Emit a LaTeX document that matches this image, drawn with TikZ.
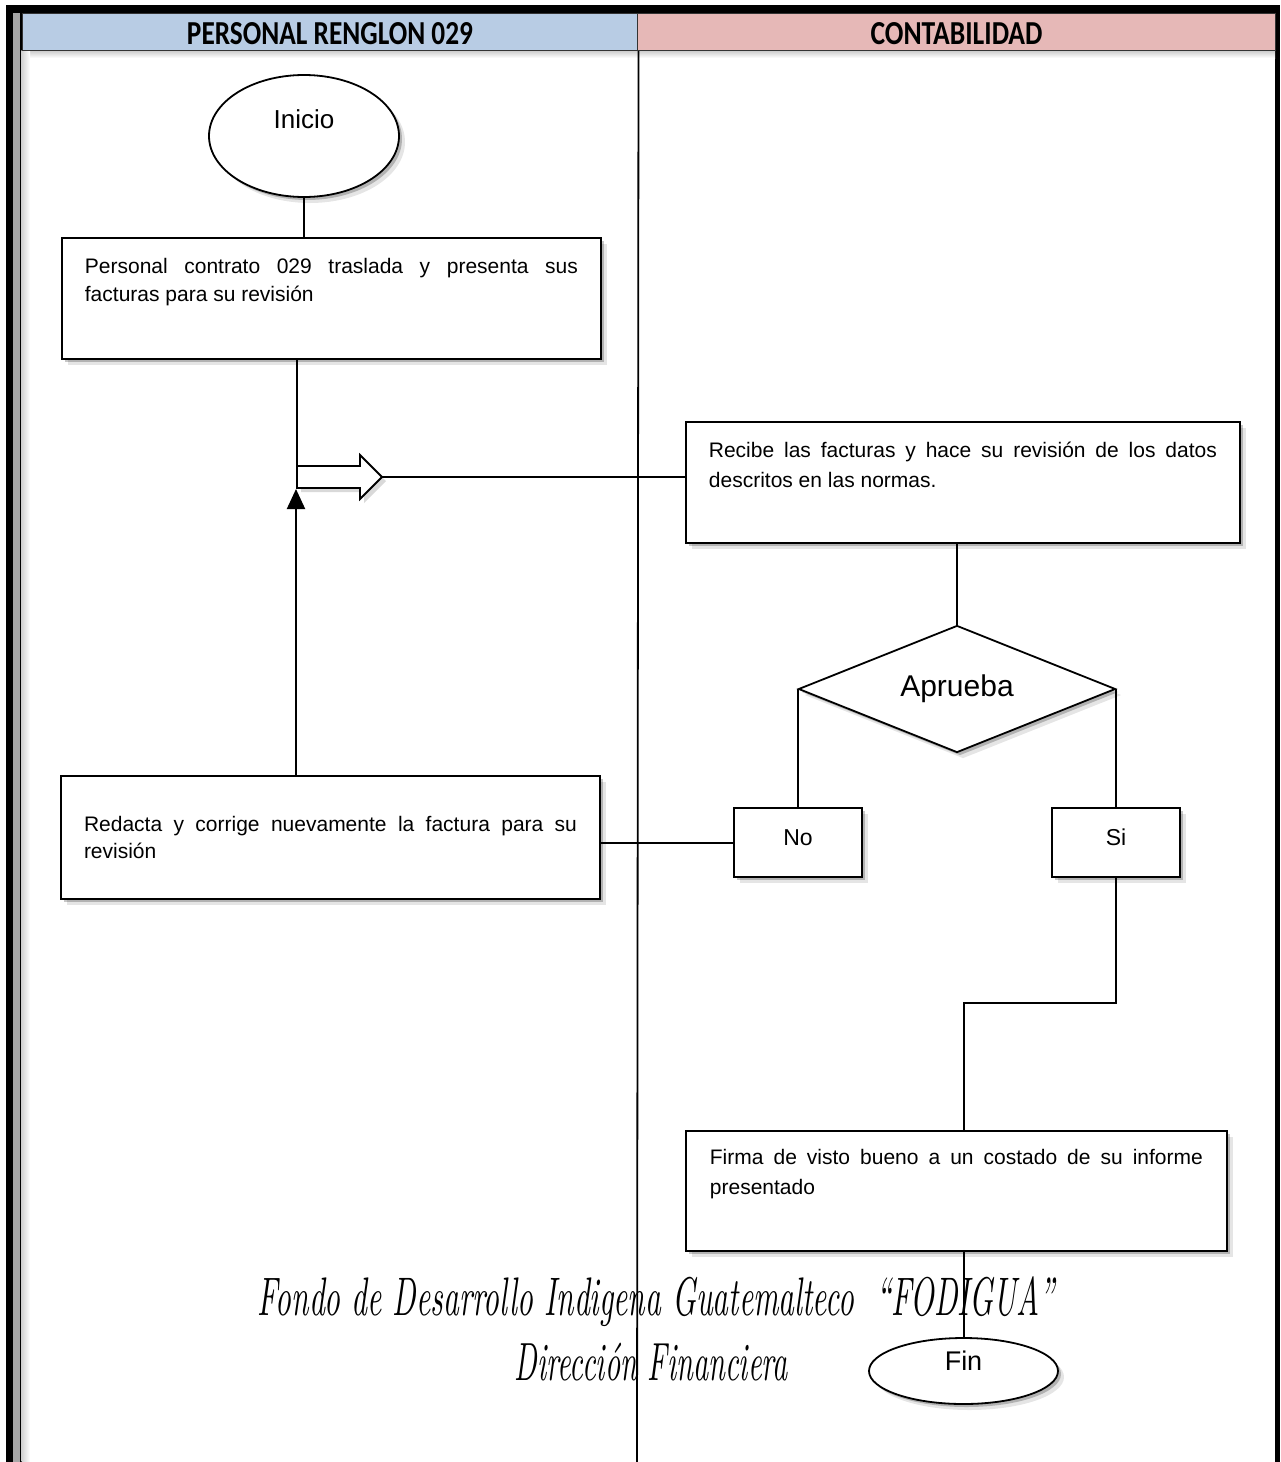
\documentclass[tikz,border=0pt]{standalone}
\usepackage{fontspec}
\newfontfamily\arial{Liberation Sans}
\newfontfamily\hdrfont{Carlito}
\usetikzlibrary{shapes.geometric,shadows,arrows.meta}
\definecolor{hblue}{RGB}{184,204,228}
\definecolor{hpink}{RGB}{230,184,183}
\begin{document}
\begin{tikzpicture}[x=1pt,y=-1pt,
  shad/.style={drop shadow={shadow xshift=3pt,shadow yshift=-3pt,opacity=.22,fill=black},
               drop shadow={shadow xshift=6pt,shadow yshift=-6pt,opacity=.10,fill=black}},
  box/.style={draw,line width=1.8pt,fill=white,rectangle,shad,font=\arial\fontsize{21}{29}\selectfont},
  ell/.style={draw,line width=1.8pt,fill=white,ellipse,inner sep=0pt,shad},
  small/.style={draw,line width=1.8pt,fill=white,rectangle,shad,minimum width=128pt,minimum height=69pt,
               inner sep=0pt,text height=17pt,text depth=12pt,font=\arial\fontsize{23}{27}\selectfont},
  conn/.style={line width=2pt,black},
  hdr/.style={draw=black!80,line width=1pt,anchor=north west,minimum height=37pt,inner sep=0pt,
               text height=25pt,text depth=0pt,font=\hdrfont\bfseries}
]
\useasboundingbox (0,0) rectangle (1280,1462);
\fill[white] (0,0) rectangle (1280,1462);
% frame
\fill[black] (6,5) rectangle (1280,13);
\fill[black] (6,13) rectangle (13,1462);
\fill[black!35] (13,13) rectangle (20,1462);
\fill[black] (20,13) rectangle (21.5,1462);
\fill[black] (1275,13) rectangle (1280,1462);
\shade[top color=black!22,bottom color=white] (21.5,50) rectangle (1275,58);
\shade[left color=black!18,right color=white] (21.5,50) rectangle (30,1462);
% header
\node[hdr,fill=hblue,minimum width=616pt] (h1) at (21.5,13) {\resizebox{286pt}{22pt}{PERSONAL RENGLON 029}};
\node[hdr,fill=hpink,minimum width=638pt] (h2) at (637,13) {\resizebox{172pt}{22pt}{CONTABILIDAD}};
\draw[line width=1.8pt] (h1.south east) -- (637,1462);

% nodes
\node[ell,minimum width=190pt,minimum height=122pt,text height=19pt,text depth=34pt,
      font=\arial\fontsize{26}{30}\selectfont] (ini) at (304,136) {Inicio};
\node[box,anchor=north west,inner xsep=23pt,inner ysep=20pt] (b1) at (61,237)
  {\parbox[t][81pt][t]{493pt}{\fontsize{21}{28}\selectfont Personal contrato 029 traslada y presenta sus\linebreak facturas para su revisión}};
\node[box,anchor=north west,inner xsep=23pt,inner ysep=20pt] (b3) at (685,421)
  {\parbox[t][81pt][t]{508pt}{\fontsize{21}{30}\selectfont Recibe las facturas y hace su revisión de los datos\linebreak descritos en las normas.}};
\node[draw,line width=1.8pt,fill=white,diamond,aspect=2.5,shad,inner sep=0pt,minimum width=317pt,minimum height=127pt,
      font=\arial\fontsize{30}{34}\selectfont] (dia) at (957,689) {Aprueba};
\node[small] (no) at (798,842.5) {No};
\node[small] (si) at (1116,842.5) {Si};
\node[box,minimum width=539pt,minimum height=123pt,inner xsep=23pt,inner ysep=0pt] (b2) at (330.5,837.5)
  {\parbox{493pt}{\fontsize{21}{27}\selectfont Redacta y corrige nuevamente la factura para su\linebreak revisión}};
\node[box,anchor=north west,inner xsep=24pt,inner ysep=18pt] (b4) at (685,1130)
  {\parbox[t][84pt][t]{493pt}{\fontsize{21}{30}\selectfont Firma de visto bueno a un costado de su informe\linebreak presentado}};
\node[ell,minimum width=189pt,minimum height=66pt,text height=19pt,text depth=20pt,
      font=\arial\fontsize{27}{30}\selectfont] (fin) at (963.5,1371) {Fin};

% hollow arrow and junctions
\coordinate (jtop) at (297,466);
\coordinate (atip) at (382,477);
\coordinate (up) at (296,489);
\coordinate (k) at (964,1003);

% connectors
\draw[conn] (ini.south) -- (ini.south |- b1.north);
\draw[conn] (jtop |- b1.south) -- (jtop);
\draw[line width=1.8pt,fill=white,preaction={fill=black!15,transform canvas={shift={(4pt,-4pt)}}}]
  (297,466) -- (360,466) -- (360,455) -- (atip) -- (360,499) -- (360,488) -- (297,488) -- cycle;
\draw[conn] (atip) -- (atip -| b3.west);
\draw[conn,-{Triangle[length=20pt,width=18pt]}] (up |- b2.north) -- (up);
\draw[conn] (dia.north |- b3.south) -- (dia.north);
\draw[conn] (dia.west) -- (dia.west |- no.north);
\draw[conn] (dia.east) -- (dia.east |- si.north);
\draw[conn] (no.west) -- (no.west -| b2.east);
\draw[conn] (si.south) |- (k) -- (k |- b4.north);
\draw[conn] (fin.north |- b4.south) -- (fin.north);

% footer
\node[inner sep=0pt] (foot1) at (656.5,1302)
  {\resizebox*{797pt}{50pt}{\itshape Fondo de Desarrollo Indigena Guatemalteco\ \ ``FODIGUA''}};
\node[inner sep=0pt] (foot2) at (651.5,1362)
  {\resizebox*{273pt}{38pt}{\itshape Dirección Financiera}};
\end{tikzpicture}
\end{document}
